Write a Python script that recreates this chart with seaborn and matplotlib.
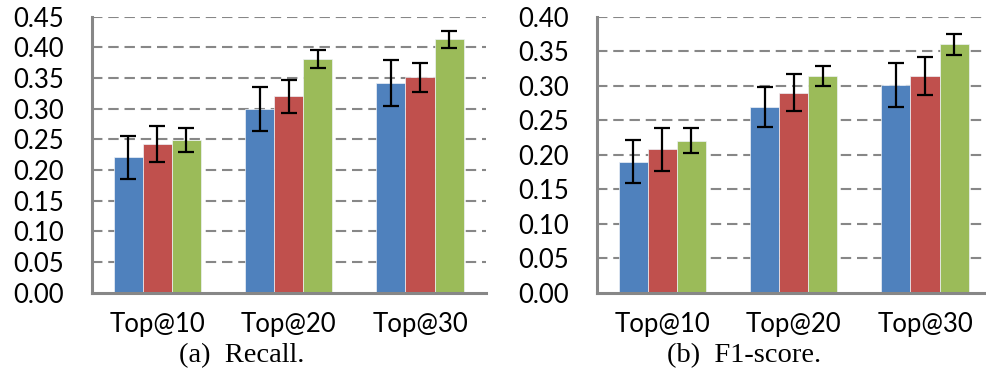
import numpy as np
import pandas as pd
import matplotlib
matplotlib.use("Agg")
import matplotlib.pyplot as plt
import seaborn as sns

# ---- data ----
categories = ["Top@10", "Top@20", "Top@30"]
methods = ["Method A", "Method B", "Method C"]

recall_a = [0.221, 0.300, 0.342]
recall_b = [0.242, 0.320, 0.351]
recall_c = [0.249, 0.381, 0.413]
recall_err_a = [0.035, 0.036, 0.038]
recall_err_b = [0.029, 0.0275, 0.024]
recall_err_c = [0.019, 0.015, 0.0136]

f1_a = [0.190, 0.269, 0.301]
f1_b = [0.208, 0.290, 0.314]
f1_c = [0.220, 0.314, 0.360]
f1_err_a = [0.031, 0.029, 0.032]
f1_err_b = [0.031, 0.027, 0.028]
f1_err_c = [0.018, 0.0145, 0.015]

yticks_recall = [0.00, 0.05, 0.10, 0.15, 0.20, 0.25, 0.30, 0.35, 0.40, 0.45]
yticks_f1 = [0.00, 0.05, 0.10, 0.15, 0.20, 0.25, 0.30, 0.35, 0.40]
captions = ["(a)  Recall.", "(b)  F1-score."]

colors = ["#4F81BD", "#C0504D", "#9BBB59"]

sns.set_theme(style="white")
plt.rcParams["font.family"] = ["Lato", "DejaVu Sans"]


def make_df(a, b, c):
    rows = []
    for m, vals in zip(methods, [a, b, c]):
        for cat, v in zip(categories, vals):
            rows.append({"k": cat, "m": m, "v": v})
    return pd.DataFrame(rows)


fig = plt.figure(figsize=(9.87, 3.92), dpi=100)
W, H = 987.0, 392.0
ax_w = 394 / W
ax_h = 276 / H
ax_y = 1 - 292.7 / H
ax1 = fig.add_axes([91.7 / W, ax_y, ax_w, ax_h])
ax2 = fig.add_axes([596.7 / W, ax_y, ax_w, ax_h])

grid_col = "#878787"
panels = [
    (ax1, make_df(recall_a, recall_b, recall_c),
     [recall_err_a, recall_err_b, recall_err_c], yticks_recall),
    (ax2, make_df(f1_a, f1_b, f1_c),
     [f1_err_a, f1_err_b, f1_err_c], yticks_f1),
]

for ax, df, errs, yt in panels:
    ax.set_axisbelow(True)
    sns.barplot(data=df, x="k", y="v", hue="m", palette=colors, width=0.664,
                gap=0, saturation=1, errorbar=None, legend=False, ax=ax,
                edgecolor="#eef2f7", linewidth=0.5, zorder=2)
    for cont, err in zip(ax.containers, errs):
        xs = [p.get_x() + p.get_width() / 2 for p in cont.patches]
        hs = [p.get_height() for p in cont.patches]
        ax.errorbar(xs, hs, yerr=err, fmt="none", ecolor="black",
                    elinewidth=1.6, capsize=5.5, capthick=1.6, zorder=4)
    ax.set_xlim(-0.5, 2.5)
    ax.set_ylim(0, yt[-1])
    ax.set_yticks(yt)
    ax.set_yticklabels([f"{v:.2f}" for v in yt])
    for v in yt[1:]:
        ax.axhline(v, color=grid_col, lw=1.5, linestyle=(0, (5, 2.8)), zorder=1)
    ax.set_xlabel("")
    ax.set_ylabel("")
    for s in ["top", "right"]:
        ax.spines[s].set_visible(False)
    for s in ["left", "bottom"]:
        ax.spines[s].set_color(grid_col)
        ax.spines[s].set_linewidth(2.2)
    ax.tick_params(axis="y", length=0, pad=20, labelsize=18.5, colors="black")
    ax.tick_params(axis="x", which="major", length=0, pad=14, labelsize=18.5,
                   colors="black")
    ax.set_xticks([0.5, 1.5, 2.5], minor=True)
    ax.tick_params(axis="x", which="minor", direction="in", length=8,
                   width=1.6, color=grid_col)

fig.text(242 / W, 1 - 356 / H, captions[0], ha="center", va="center",
         family="Liberation Serif", fontsize=20.5, color="black")
fig.text(744 / W, 1 - 356 / H, captions[1], ha="center", va="center",
         family="Liberation Serif", fontsize=20.5, color="black")

fig.savefig("out.png", dpi=100)
